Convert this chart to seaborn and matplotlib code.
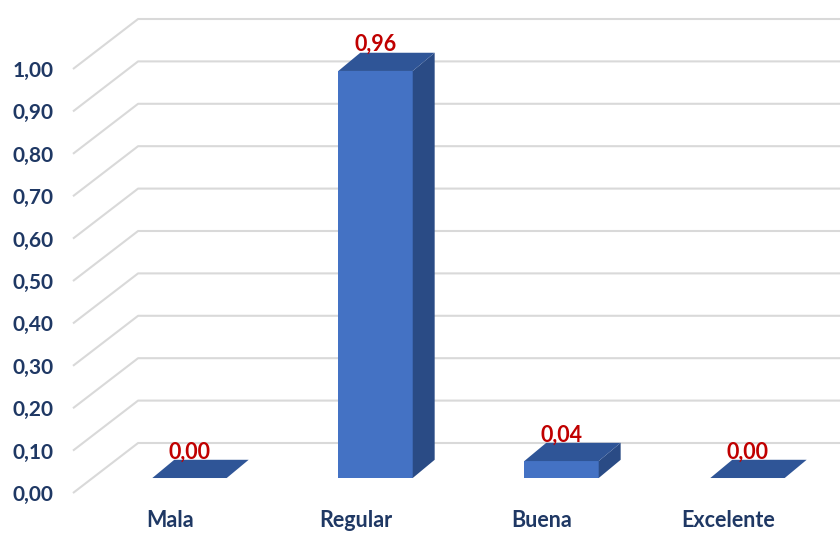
import pandas as pd
import seaborn as sns
import matplotlib.pyplot as plt
from matplotlib.patches import Polygon
from matplotlib.ticker import FuncFormatter

# datos
categorias = ["Mala", "Regular", "Buena", "Excelente"]
valores = [0.00, 0.96, 0.04, 0.00]
ticks_y = [0.0, 0.1, 0.2, 0.3, 0.4, 0.5, 0.6, 0.7, 0.8, 0.9, 1.0]

# estilo
AZUL_FRENTE = "#4472C4"
AZUL_TECHO = "#2F5597"
AZUL_LADO = "#2A4B85"
ROJO = "#C00000"
NAVY = "#1F3864"
GRIS = "#D9D9D9"

# perspectiva (unidades de datos): profundidad de la caja y de las barras
PROF_X, PROF_Y = 0.35, 0.118
BARRA_POS = 0.3
BARRA_DX, BARRA_DY = 0.118, 0.043

sns.set_theme(style="white")
plt.rcParams["font.family"] = ["Lato", "DejaVu Sans"]

fig = plt.figure(figsize=(8.4, 5.33), dpi=100)
ax = fig.add_axes([0.0869, 0.0750, 0.8357, 0.7955])

df = pd.DataFrame({"cat": categorias, "val": valores})
sns.barplot(data=df, x="cat", y="val", order=categorias, color=AZUL_FRENTE,
            saturation=1, width=0.4, ax=ax, zorder=3, linewidth=0, edgecolor="none")

ax.set_xlim(-0.5215, 3.2527)
ax.set_ylim(0, 1.0)

# pared del fondo: diagonal + horizontal
x0, x1 = ax.get_xlim()
for t in ticks_y:
    ax.plot([x0, x0 + PROF_X, x1 + PROF_X], [t, t + PROF_Y, t + PROF_Y],
            color=GRIS, lw=1.5, zorder=1, clip_on=False, solid_capstyle="butt")

# barras en 3D
off_x, off_y = BARRA_POS * PROF_X, BARRA_POS * PROF_Y
for bar, v in zip(ax.patches, valores):
    bar.set_x(bar.get_x() + off_x)
    bar.set_y(off_y)
    bar.set_clip_on(False)
    bx, by, w, h = bar.get_x(), bar.get_y(), bar.get_width(), bar.get_height()
    lado = Polygon([(bx + w, by), (bx + w, by + h),
                    (bx + w + BARRA_DX, by + h + BARRA_DY), (bx + w + BARRA_DX, by + BARRA_DY)],
                   closed=True, facecolor=AZUL_LADO, edgecolor="none", zorder=3, clip_on=False)
    techo = Polygon([(bx, by + h), (bx + w, by + h),
                     (bx + w + BARRA_DX, by + h + BARRA_DY), (bx + BARRA_DX, by + h + BARRA_DY)],
                    closed=True, facecolor=AZUL_TECHO, edgecolor="none", zorder=4, clip_on=False)
    ax.add_patch(lado)
    ax.add_patch(techo)
    ax.text(bx + w / 2, by + h + 0.062, f"{v:.2f}".replace(".", ","),
            ha="center", va="center", color=ROJO, fontsize=15.5, fontweight="bold",
            zorder=5, clip_on=False)

ax.set_yticks(ticks_y)
ax.yaxis.set_major_formatter(FuncFormatter(lambda v, _: f"{v:.2f}".replace(".", ",")))
ax.tick_params(axis="y", length=0, pad=14, labelsize=15, labelcolor=NAVY)
ax.tick_params(axis="x", length=0, pad=12, labelsize=15.5, labelcolor=NAVY)
for lab in ax.get_xticklabels() + ax.get_yticklabels():
    lab.set_fontweight("bold")

ax.set_xlabel("")
ax.set_ylabel("")
sns.despine(ax=ax, left=True, bottom=True)
ax.grid(False)

fig.savefig("out.png", dpi=100)
